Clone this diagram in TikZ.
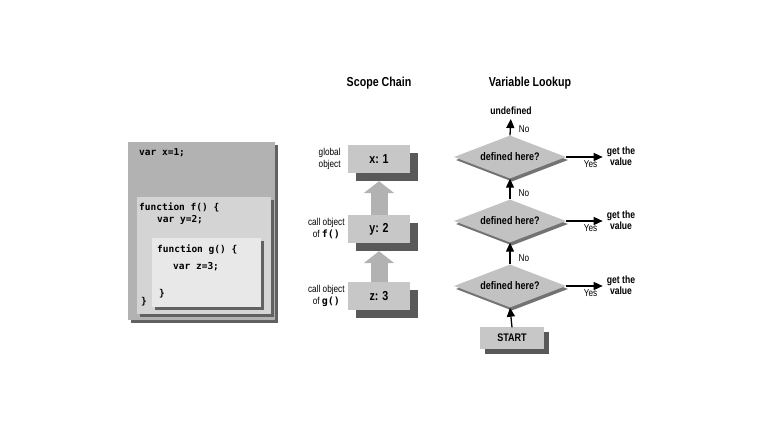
\documentclass[tikz,border=0pt]{standalone}
\usepackage{fontspec}
\usetikzlibrary{arrows,arrows.meta,positioning,shapes.geometric,shadows}
\newfontfamily\labelfont[FakeStretch=0.82]{Liberation Sans}
\newfontfamily\codefont{DejaVu Sans Mono}
\tikzset{every picture/.style={
  >=latex'                      % LaTeX style arrows.
  }
}
\newcommand{\fn}[1]{{\codefont\bfseries #1}}

\begin{document}
\begin{tikzpicture}[x=1bp,y=-1bp,
  codebox/.style={anchor=north west,inner sep=0pt,
    general shadow={fill=black!62,shadow xshift=3bp,shadow yshift=-3bp}},
  codeline/.style={anchor=west,inner sep=0pt,font=\codefont\bfseries\fontsize{9.5bp}{11bp}\selectfont},
  title/.style={font=\labelfont\bfseries\fontsize{13bp}{15bp}\selectfont},
  small/.style={align=center,inner sep=0pt,font=\labelfont\fontsize{10bp}{12bp}\selectfont},
  chainbox/.style={fill=black!22,minimum width=62bp,minimum height=28bp,
    font=\labelfont\bfseries\fontsize{13bp}{15bp}\selectfont,
    general shadow={fill=black!65,shadow xshift=8bp,shadow yshift=-8bp}},
  test/.style={diamond,fill=black!24,aspect=2.6,minimum width=112bp,minimum height=43bp,
    inner sep=0pt,font=\labelfont\bfseries\fontsize{11bp}{13bp}\selectfont,
    general shadow={fill=black!55,shadow xshift=2bp,shadow yshift=-3bp}},
  startbox/.style={fill=black!22,minimum width=64bp,minimum height=21bp,
    font=\labelfont\bfseries\fontsize{11bp}{13bp}\selectfont,
    general shadow={fill=black!65,shadow xshift=5bp,shadow yshift=-5bp}},
  result/.style={align=center,inner sep=0pt,font=\labelfont\bfseries\fontsize{10.5bp}{10.5bp}\selectfont},
  flow/.style={-{Triangle[width=8bp,length=9bp]},line width=1.3bp},
  block/.style={line width=17bp,black!30,-{Triangle[width=30bp,length=12bp]}}
  ]
  \fill[white] (0,0) rectangle (768,442);
  \useasboundingbox (0,0) rectangle (768,442);

  \node[codebox,fill=black!30,minimum width=147bp,minimum height=178bp] (outer) at (128,142) {};
  \node[codebox,fill=black!17,minimum width=134bp,minimum height=117bp] (fbody) at (137,197) {};
  \node[codebox,fill=black!9,minimum width=109bp,minimum height=69bp] (gbody) at (152,238) {};
  \node[codeline] (xdecl) at (139,153) {var x=1;};
  \node[codeline] (fhead) at (139,207) {function f() \{};
  \node[codeline] (ydecl) at (157,220) {var y=2;};
  \node[codeline] (ghead) at (157,250) {function g() \{};
  \node[codeline] (zdecl) at (173,267) {var z=3;};
  \node[codeline] (gend) at (159,294) {\}};
  \node[codeline] (fend) at (141,302) {\}};

  \node[title] (chain) at (379,83) {Scope Chain};
  \node[chainbox] (xobj) at (379,159) {x: 1};
  \node[chainbox] (yobj) at (379,229) {y: 2};
  \node[chainbox] (zobj) at (379,296) {z: 3};
  \node[small,left=7bp of xobj] (glob) {global\\object};
  \node[small,left=3bp of yobj] (fcall) {call object\\of \fn{f()}};
  \node[small,left=3bp of zobj] (gcall) {call object\\of \fn{g()}};
  \draw[block,shorten >=8bp] (yobj.north) -- (xobj.south);
  \draw[block,shorten >=8bp] (zobj.north) -- (yobj.south);

  \node[title] (lookup) at (530,83) {Variable Lookup};
  \node[result] (undef) at (511,111) {undefined};
  \node[test] (dfa) at (510,157) {defined here?};
  \node[test] (dfb) at (510,221) {defined here?};
  \node[test] (dfc) at (510,286) {defined here?};
  \node[startbox] (start) at (512,338) {START};
  \node[result] (vala) at (621,156) {get the\\value};
  \node[result] (valb) at (621,220) {get the\\value};
  \node[result] (valc) at (621,285) {get the\\value};
  \draw[flow,shorten >=4bp] (dfa.north) -- node[small,pos=0.3,right=8bp] {No} (undef.south);
  \draw[flow] (dfb.north) -- node[small,pos=0.3,right=8bp] {No} (dfa.south);
  \draw[flow] (dfc.north) -- node[small,pos=0.3,right=8bp] {No} (dfb.south);
  \draw[flow] (start.north) -- (dfc.south);
  \draw[flow,shorten >=4bp] (dfa.east) -- node[small,pos=0.6,below=3bp] {Yes} (dfa.east -| vala.west);
  \draw[flow,shorten >=4bp] (dfb.east) -- node[small,pos=0.6,below=3bp] {Yes} (dfb.east -| valb.west);
  \draw[flow,shorten >=4bp] (dfc.east) -- node[small,pos=0.6,below=3bp] {Yes} (dfc.east -| valc.west);
\end{tikzpicture}
\end{document}
